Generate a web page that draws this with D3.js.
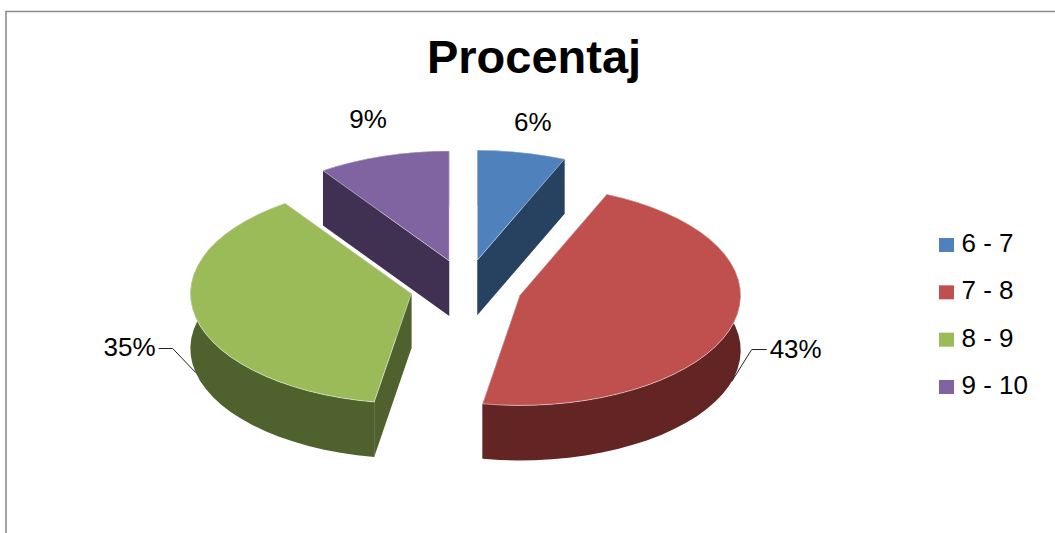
<!DOCTYPE html>
<html>
<head>
<meta charset="utf-8">
<script src="https://cdn.jsdelivr.net/npm/d3@7"></script>
<style>
  html, body { margin: 0; padding: 0; background: #fff; }
  svg { display: block; }
  text { font-family: "Liberation Sans", Arial, sans-serif; fill: #000; }
</style>
</head>
<body>
<div class="chart"></div>
<script>
var svgWidth = 1055;
var svgHeight = 533;

var categories = ["6 - 7", "7 - 8", "8 - 9", "9 - 10"];
var values = [6, 43, 35, 9];
var percentLabels = ["6%", "43%", "35%", "9%"];
var topColors = ["#4f81bd", "#c0504d", "#9bbb59", "#8064a2"];
var sideColors = ["#274161", "#632523", "#4f612c", "#403152"];

// pie geometry, the top is an ellipse and the rim is pushed down by depth
var center = { x: 466, y: 287.5 };
var rx = 221;
var ry = 110;
var depth = 55;
var explode = 56;

var svg = d3.select(".chart")
  .append("svg")
  .attr("width", svgWidth)
  .attr("height", svgHeight);

// border of the chart area, cropped on the right and at the bottom
svg.append("path")
  .attr("d", `M6,${svgHeight}V11.5H${svgWidth}`)
  .attr("fill", "none")
  .attr("stroke", "#8c8c8c")
  .attr("stroke-width", 1.6);

svg.append("text")
  .attr("x", 534)
  .attr("y", 72.5)
  .attr("text-anchor", "middle")
  .attr("font-weight", "bold")
  .attr("font-size", 47)
  .text("Procentaj");

var pie = d3.pie().sort(null);
var slices = pie(values).map(function(d, i) {
  var mid = (d.startAngle + d.endAngle) / 2;
  return {
    i: i,
    start: d.startAngle,
    end: d.endAngle,
    mid: mid,
    ox: center.x + explode * Math.sin(mid),
    oy: center.y - explode * (ry / rx) * Math.cos(mid)
  };
});

function rimPoint(s, t, drop) {
  return [s.ox + rx * Math.sin(t), s.oy - ry * Math.cos(t) + drop];
}

// the reference rim is slightly faceted, so sample the arc coarsely
function arcPoints(s, drop) {
  var n = Math.max(2, Math.round((s.end - s.start) / (4.5 * Math.PI / 180)));
  return d3.range(n + 1).map(function(k) {
    return rimPoint(s, s.start + (s.end - s.start) * k / n, drop);
  });
}

var line = d3.line();

// back slices first so the front ones cover them
var drawOrder = [0, 3, 1, 2];

var sliceGroup = svg.selectAll("g.slice")
  .data(drawOrder.map(function(i) { return slices[i]; }))
  .enter()
  .append("g")
  .attr("class", "slice");

// start and end walls
sliceGroup.selectAll("path.wall")
  .data(function(s) {
    return [s.start, s.end].map(function(t) { return { s: s, t: t }; });
  })
  .enter()
  .append("path")
  .attr("class", "wall")
  .attr("fill", d => sideColors[d.s.i])
  .attr("d", function(d) {
    return line([
      [d.s.ox, d.s.oy],
      rimPoint(d.s, d.t, 0),
      rimPoint(d.s, d.t, depth),
      [d.s.ox, d.s.oy + depth]
    ]) + "Z";
  });

// outer rim
sliceGroup.append("path")
  .attr("fill", d => sideColors[d.i])
  .attr("d", function(s) {
    return line(arcPoints(s, 0).concat(arcPoints(s, depth).reverse())) + "Z";
  });

// top face
sliceGroup.append("path")
  .attr("fill", d => topColors[d.i])
  .attr("stroke", "#fff")
  .attr("stroke-opacity", 0.6)
  .attr("stroke-width", 0.8)
  .attr("stroke-linejoin", "round")
  .attr("d", function(s) {
    return line([[s.ox, s.oy]].concat(arcPoints(s, 0))) + "Z";
  });

// labels sit at an offset from the middle of each slice's rim
var labelOffsets = [[11, -21], [38, 31], [-40, 38], [-15, -28]];
var labelAnchors = ["middle", "start", "end", "middle"];

svg.selectAll("text.pct")
  .data(slices)
  .enter()
  .append("text")
  .attr("class", "pct")
  .attr("font-size", 26)
  .attr("text-anchor", d => labelAnchors[d.i])
  .attr("x", d => rimPoint(d, d.mid, 0)[0] + labelOffsets[d.i][0])
  .attr("y", d => rimPoint(d, d.mid, 0)[1] + labelOffsets[d.i][1])
  .text(d => percentLabels[d.i]);

// leader lines only for the two big slices
var leaderBends = { 1: [[20, -32], [35, -32]], 2: [[-23, -24], [-37, -24]] };

svg.selectAll("path.leader")
  .data(slices.filter(d => leaderBends[d.i]))
  .enter()
  .append("path")
  .attr("class", "leader")
  .attr("fill", "none")
  .attr("stroke", "#222")
  .attr("stroke-width", 1)
  .attr("d", function(d) {
    var p = rimPoint(d, d.mid, depth);
    return line([p].concat(leaderBends[d.i].map(function(b) {
      return [p[0] + b[0], p[1] + b[1]];
    })));
  });

// legend
var legendY = d3.scalePoint()
  .domain(categories)
  .range([245, 387]);

var legend = svg.selectAll("g.legend")
  .data(categories)
  .enter()
  .append("g")
  .attr("class", "legend")
  .attr("transform", d => `translate(939, ${legendY(d)})`);

legend.append("rect")
  .attr("y", -7)
  .attr("width", 15)
  .attr("height", 14)
  .attr("fill", (d, i) => topColors[i]);

legend.append("text")
  .attr("x", 22.5)
  .attr("y", 7)
  .attr("font-size", 26)
  .text(d => d);
</script>
</body>
</html>
